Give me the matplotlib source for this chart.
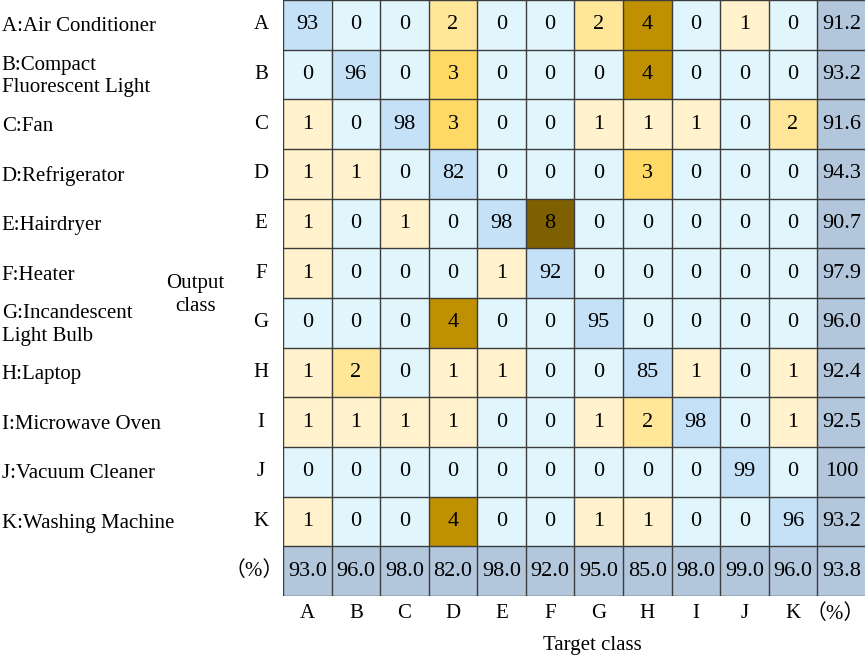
import matplotlib
matplotlib.use("Agg")
import matplotlib.pyplot as plt
import numpy as np
from matplotlib.colors import to_rgb

plt.rcParams['font.family'] = ['Liberation Serif', 'DejaVu Serif']

classes = ["A", "B", "C", "D", "E", "F", "G", "H", "I", "J", "K"]
class_names = ["A:Air Conditioner", "B:Compact\nFluorescent Light", "C:Fan",
               "D:Refrigerator", "E:Hairdryer", "F:Heater",
               "G:Incandescent\nLight Bulb", "H:Laptop", "I:Microwave Oven",
               "J:Vacuum Cleaner", "K:Washing Machine"]
matrix = [
    [93, 0, 0, 2, 0, 0, 2, 4, 0, 1, 0],
    [0, 96, 0, 3, 0, 0, 0, 4, 0, 0, 0],
    [1, 0, 98, 3, 0, 0, 1, 1, 1, 0, 2],
    [1, 1, 0, 82, 0, 0, 0, 3, 0, 0, 0],
    [1, 0, 1, 0, 98, 8, 0, 0, 0, 0, 0],
    [1, 0, 0, 0, 1, 92, 0, 0, 0, 0, 0],
    [0, 0, 0, 4, 0, 0, 95, 0, 0, 0, 0],
    [1, 2, 0, 1, 1, 0, 0, 85, 1, 0, 1],
    [1, 1, 1, 1, 0, 0, 1, 2, 98, 0, 1],
    [0, 0, 0, 0, 0, 0, 0, 0, 0, 99, 0],
    [1, 0, 0, 4, 0, 0, 1, 1, 0, 0, 96],
]
row_pct = ["91.2", "93.2", "91.6", "94.3", "90.7", "97.9", "96.0", "92.4", "92.5", "100", "93.2"]
col_pct = ["93.0", "96.0", "98.0", "82.0", "98.0", "92.0", "95.0", "85.0", "98.0", "99.0", "96.0"]
overall = "93.8"

zero_color = "#e1f5fd"
diag_color = "#c5e1f8"
sum_color = "#b2c6dc"
off_colors = {1: "#fff2cc", 2: "#ffe699", 3: "#ffd966", 4: "#bf9000", 8: "#7f6000"}

n = len(classes)
img = np.zeros((n + 1, n + 1, 3))
for i in range(n):
    for j in range(n):
        v = matrix[i][j]
        if i == j:
            c = diag_color
        elif v == 0:
            c = zero_color
        else:
            c = off_colors[v]
        img[i, j] = to_rgb(c)
img[n, :] = to_rgb(sum_color)
img[:, n] = to_rgb(sum_color)

fig = plt.figure(figsize=(8.65, 6.58), dpi=100)
ax = fig.add_axes([283 / 865, 1 - 596 / 658, 1 - 283 / 865 + 0.001, 596 / 658])
ax.imshow(img, aspect='auto', interpolation='nearest', extent=(-0.5, n + 0.5, n + 0.5, -0.5))
ax.set_xlim(-0.5, n + 0.5)
ax.set_ylim(n + 0.5, -0.5)

fs = 16
lfs = 15
for i in range(n):
    for j in range(n):
        ax.text(j, i, str(matrix[i][j]), ha='center', va='center', fontsize=fs, color='black')
    ax.text(n, i, row_pct[i], ha='center', va='center', fontsize=fs)
for j in range(n):
    ax.text(j, n, col_pct[j], ha='center', va='center', fontsize=fs)
ax.text(n, n, overall, ha='center', va='center', fontsize=fs)

for k in range(n + 2):
    ax.axhline(k - 0.5, color='#3c3c3c', lw=1.0)
    ax.axvline(k - 0.5, color='#3c3c3c', lw=1.0)

ax.set_xticks([])
ax.set_yticks([])
for s in ax.spines.values():
    s.set_visible(False)

cjk = ['Liberation Serif', 'Noto Sans CJK TC']
for i, lab in enumerate(classes):
    ax.text(-0.95, i, lab, ha='center', va='center', fontsize=lfs, clip_on=False)
ax.text(-1.1, n, "（%）", ha='center', va='center', fontsize=lfs, family=cjk, clip_on=False)
for j, lab in enumerate(classes):
    ax.text(j, n + 0.86, lab, ha='center', va='center', fontsize=lfs, clip_on=False)
ax.text(n - 0.13, n + 0.86, "（%）", ha='center', va='center', fontsize=lfs, family=cjk, clip_on=False)

for i, name in enumerate(class_names):
    ax.text(-6.29, i + 0.04, name, ha='left', va='center', fontsize=lfs, linespacing=1.25, clip_on=False)

ax.text(-2.31, 5.44, "Output\nclass", ha='center', va='center', fontsize=lfs, linespacing=1.25)
ax.text(5.87, n + 1.49, "Target class", ha='center', va='center', fontsize=lfs)

fig.savefig("out.png", dpi=100)
